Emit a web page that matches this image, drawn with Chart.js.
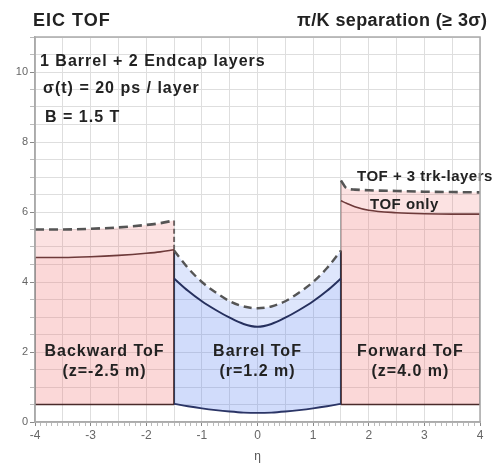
<!DOCTYPE html>
<html>
<head>
<meta charset="utf-8">
<script src="https://cdn.jsdelivr.net/npm/chart.js@4.4.1/dist/chart.umd.min.js"></script>
<style>
  html, body { margin: 0; padding: 0; background: #fff; }
  #wrap { position: relative; width: 493px; height: 468px; }
</style>
</head>
<body>
<div id="wrap"><canvas id="c" width="493" height="468"></canvas></div>
<script>
// Pseudorapidity coverage of each ToF subsystem and the maximum momentum (GeV/c)
// with >= 3 sigma pi/K separation: ToF alone and ToF with 3 tracking layers.
const backEta     = [-4, -3.5, -3, -2.5, -2, -1.75, -1.5];
const backLow     = [0.5, 0.5, 0.5, 0.5, 0.5, 0.5, 0.5];
const backTofOnly = [4.7, 4.7, 4.72, 4.76, 4.82, 4.86, 4.92];
const backTofTrk  = [5.5, 5.5, 5.52, 5.56, 5.63, 5.68, 5.76];

const barEta      = [-1.5, -1.25, -1, -0.75, -0.5, -0.25, 0, 0.25, 0.5, 0.75, 1, 1.25, 1.5];
const barLow      = [0.52, 0.45, 0.39, 0.34, 0.3, 0.27, 0.26, 0.27, 0.3, 0.34, 0.39, 0.45, 0.52];
const barTofOnly  = [4.1, 3.75, 3.45, 3.2, 2.98, 2.8, 2.72, 2.8, 2.98, 3.2, 3.45, 3.75, 4.1];
const barTofTrk   = [4.9, 4.4, 4.0, 3.7, 3.45, 3.3, 3.25, 3.3, 3.45, 3.7, 4.0, 4.4, 4.9];

const fwdEta      = [1.5, 1.6, 1.75, 2, 2.5, 3, 3.5, 4];
const fwdLow      = [0.5, 0.5, 0.5, 0.5, 0.5, 0.5, 0.5, 0.5];
const fwdTofOnly  = [6.32, 6.25, 6.15, 6.05, 5.98, 5.95, 5.94, 5.94];
const fwdTofTrk   = [6.9, 6.68, 6.64, 6.62, 6.6, 6.58, 6.57, 6.56];

const xTickLabels = [-4, -3, -2, -1, 0, 1, 2, 3, 4];
const yTickLabels = [0, 2, 4, 6, 8, 10];

const FONT = "'Liberation Sans', Arial, sans-serif";
const pink = 'rgba(240,110,110,0.27)';
const pinkLight = 'rgba(240,110,110,0.2)';
const blue = 'rgba(90,130,240,0.28)';
const blueLight = 'rgba(90,130,240,0.2)';

const pts = (xs, ys) => xs.map((x, i) => ({ x, y: ys[i] }));
const seg = (x, y0, y1) => [{ x, y: y0 }, { x, y: y1 }];
const last = a => a[a.length - 1];

function curve(data, color, width, extra) {
  return Object.assign({
    data, borderColor: color, borderWidth: width, pointRadius: 0,
    fill: false, cubicInterpolationMode: 'monotone'
  }, extra || {});
}

const datasets = [
  // backward endcap
  curve(pts(backEta, backLow), '#4a2a2a', 1.6),
  curve(pts(backEta, backTofOnly), '#6e3a3a', 1.6, { fill: { target: 0 }, backgroundColor: pink }),
  curve(pts(backEta, backTofTrk), '#555', 2.6, { fill: { target: 1 }, backgroundColor: pinkLight, borderDash: [9, 5] }),
  // barrel
  curve(pts(barEta, barLow), '#2b3566', 1.8),
  curve(pts(barEta, barTofOnly), '#26305e', 2, { fill: { target: 3 }, backgroundColor: blue }),
  curve(pts(barEta, barTofTrk), '#555', 2.4, { fill: { target: 4 }, backgroundColor: blueLight, borderDash: [8, 5] }),
  // forward endcap
  curve(pts(fwdEta, fwdLow), '#4a2a2a', 1.6),
  curve(pts(fwdEta, fwdTofOnly), '#6e3a3a', 1.6, { fill: { target: 6 }, backgroundColor: pink }),
  curve(pts(fwdEta, fwdTofTrk), '#555', 2.6, { fill: { target: 7 }, backgroundColor: pinkLight, borderDash: [9, 5] }),
  // subsystem boundaries
  curve(seg(backEta[0], backLow[0], backTofOnly[0]), '#333', 1.8),
  curve(seg(last(backEta), last(backLow), last(backTofOnly)), '#222', 2),
  curve(seg(last(backEta), last(backTofOnly), last(backTofTrk)), '#666', 2, { borderDash: [5, 3] }),
  curve(seg(fwdEta[0], fwdLow[0], last(barTofTrk)), '#222', 2),
  curve(seg(fwdEta[0], last(barTofTrk), fwdTofTrk[0]), '#888', 1.2),
  curve(seg(last(fwdEta), last(fwdLow), last(fwdTofOnly)), '#555', 1.6)
];

const isMult = (v, s) => Math.abs(v / s - Math.round(v / s)) < 1e-6;

const annotations = {
  id: 'annotations',
  afterDatasetsDraw(chart) {
    const { ctx, scales: { x } } = chart;
    ctx.save();
    ctx.fillStyle = '#222';
    ctx.textBaseline = 'middle';
    ctx.font = `bold 16px ${FONT}`;
    ctx.letterSpacing = '1px';
    ctx.textAlign = 'left';
    ctx.fillText('1 Barrel + 2 Endcap layers', 40, 62);
    ctx.fillText('\u03c3(t) = 20 ps / layer', 43, 89);
    ctx.fillText('B = 1.5 T', 45, 118);

    // subsystem labels, centred in each eta range
    ctx.textAlign = 'center';
    const lab = (eta0, eta1, l1, l2) => {
      const cx = (x.getPixelForValue(eta0) + x.getPixelForValue(eta1)) / 2;
      ctx.fillText(l1, cx, 352);
      ctx.fillText(l2, cx, 372);
    };
    lab(backEta[0], last(backEta), 'Backward ToF', '(z=-2.5 m)');
    lab(barEta[0], last(barEta), 'Barrel ToF', '(r=1.2 m)');
    lab(fwdEta[0], last(fwdEta), 'Forward ToF', '(z=4.0 m)');

    ctx.textAlign = 'left';
    ctx.font = `bold 15px ${FONT}`;
    ctx.letterSpacing = '0.5px';
    ctx.fillText('TOF + 3 trk-layers', 357, 177);
    ctx.fillText('TOF only', 370, 205);

    // plot frame
    const a = chart.chartArea;
    ctx.strokeStyle = '#aaa';
    ctx.lineWidth = 1.5;
    ctx.strokeRect(a.left, a.top, a.right - a.left, a.bottom - a.top);
    ctx.restore();
  },
  afterDraw(chart) {
    const { ctx } = chart;
    ctx.save();
    ctx.fillStyle = '#222';
    ctx.textBaseline = 'middle';
    ctx.font = `bold 18px ${FONT}`;
    ctx.letterSpacing = '1px';
    ctx.textAlign = 'left';
    ctx.fillText('EIC TOF', 33, 21);
    ctx.letterSpacing = '0.4px';
    ctx.fillText('\u03c0/K separation (\u2265 3\u03c3)', 297, 21);
    ctx.restore();
  }
};

new Chart(document.getElementById('c'), {
  type: 'line',
  data: { datasets },
  plugins: [annotations],
  options: {
    responsive: false,
    animation: false,
    events: [],
    layout: { padding: { top: 37, right: 13, left: 0, bottom: 0 } },
    plugins: { legend: { display: false }, tooltip: { enabled: false }, filler: { propagate: false } },
    scales: {
      x: {
        type: 'linear', min: -4, max: 4,
        afterFit: s => { s.height = 46; },
        afterBuildTicks: s => {
          s.ticks = [];
          for (let i = -40; i <= 40; i++) s.ticks.push({ value: i / 10 });
        },
        ticks: {
          autoSkip: false, maxRotation: 0, padding: 2,
          color: '#666', font: { family: FONT, size: 12 },
          callback: v => xTickLabels.some(t => Math.abs(t - v) < 1e-6) ? String(Math.round(v)) : ''
        },
        grid: {
          color: c => isMult(c.tick.value, 0.5) ? '#dedede' : 'rgba(0,0,0,0)',
          tickColor: c => isMult(c.tick.value, 1) ? '#888' : '#bbb',
          tickLength: 4, lineWidth: 1
        },
        border: { color: '#aaa', width: 1.5 },
        title: { display: true, text: '\u03b7', color: '#555', font: { family: FONT, size: 12 }, padding: { top: 6 } }
      },
      y: {
        type: 'linear', min: 0, max: 11,
        afterFit: s => { s.width = 35; },
        afterBuildTicks: s => {
          s.ticks = [];
          for (let i = 0; i <= 22; i++) s.ticks.push({ value: i / 2 });
        },
        ticks: {
          autoSkip: false, padding: 2,
          color: '#666', font: { family: FONT, size: 11 },
          callback: v => yTickLabels.some(t => Math.abs(t - v) < 1e-6) ? String(Math.round(v)) : ''
        },
        grid: {
          color: '#dedede',
          tickColor: c => isMult(c.tick.value, 2) ? '#888' : '#bbb',
          tickLength: 5, lineWidth: 1
        },
        border: { color: '#aaa', width: 1.5 }
      }
    }
  }
});
</script>
</body>
</html>
